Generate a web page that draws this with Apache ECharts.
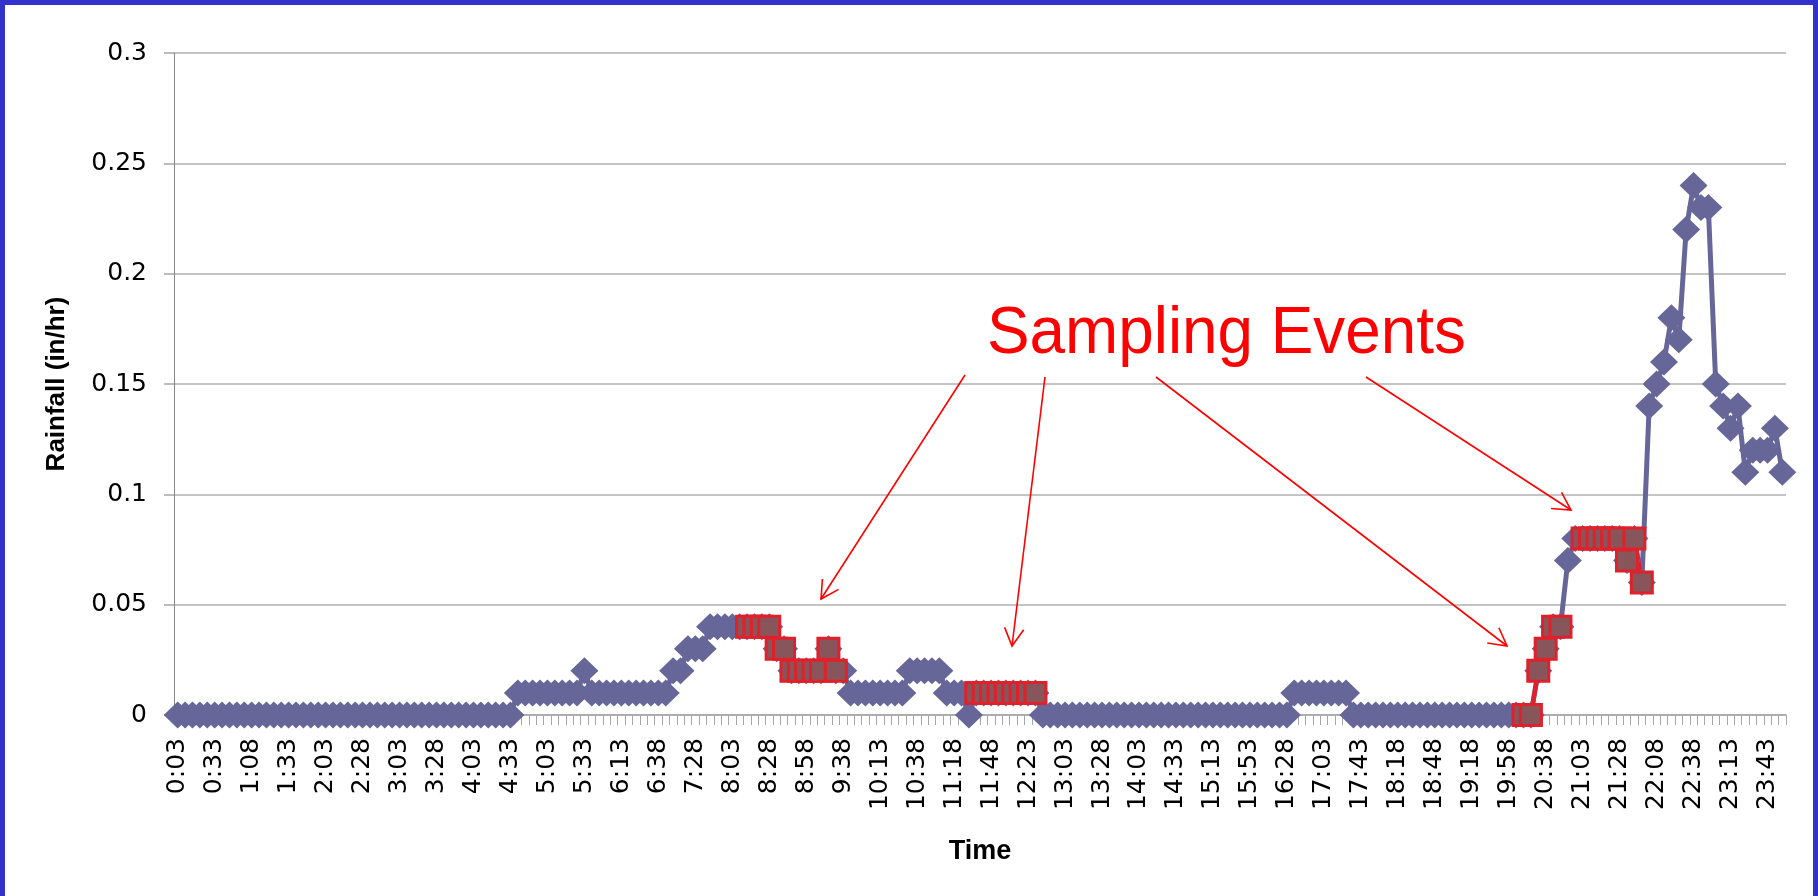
<!DOCTYPE html>
<html>
<head>
<meta charset="utf-8">
<title>Rainfall</title>
<script src="https://cdn.jsdelivr.net/npm/echarts@6/dist/echarts.min.js"></script>
<style>
  html, body { margin: 0; padding: 0; background: #fff; }
  #chart { position: absolute; left: 0; top: 0; width: 1818px; height: 896px; }
  #frame { position: absolute; left: 0; top: 0; width: 1818px; height: 896px; box-sizing: border-box;
           border: 5px solid #3333cc; border-bottom: none; pointer-events: none; }
</style>
</head>
<body>
<div id="chart"></div>
<div id="frame"></div>
<script>
// time stamps (only every 5th is printed on the axis)
const times = [
  '0:03','0:08','0:13','0:18','0:23', '0:33','0:38','0:43','0:48','0:53',
  '1:08','1:13','1:18','1:23','1:28', '1:33','1:38','1:43','1:48','1:53',
  '2:03','2:08','2:13','2:18','2:23', '2:28','2:33','2:38','2:43','2:48',
  '3:03','3:08','3:13','3:18','3:23', '3:28','3:33','3:38','3:43','3:48',
  '4:03','4:08','4:13','4:18','4:23', '4:33','4:38','4:43','4:48','4:53',
  '5:03','5:08','5:13','5:18','5:23', '5:33','5:38','5:43','5:48','5:53',
  '6:13','6:18','6:23','6:28','6:33', '6:38','6:43','6:48','6:53','6:58',
  '7:28','7:33','7:38','7:43','7:48', '8:03','8:08','8:13','8:18','8:23',
  '8:28','8:33','8:38','8:43','8:48', '8:58','9:03','9:08','9:13','9:18',
  '9:38','9:43','9:48','9:53','9:58', '10:13','10:18','10:23','10:28','10:33',
  '10:38','10:43','10:48','10:53','10:58', '11:18','11:23','11:28','11:33','11:38',
  '11:48','11:53','11:58','12:03','12:08', '12:23','12:28','12:33','12:38','12:43',
  '13:03','13:08','13:13','13:18','13:23', '13:28','13:33','13:38','13:43','13:48',
  '14:03','14:08','14:13','14:18','14:23', '14:33','14:38','14:43','14:48','14:53',
  '15:13','15:18','15:23','15:28','15:33', '15:53','15:58','16:03','16:08','16:13',
  '16:28','16:33','16:38','16:43','16:48', '17:03','17:08','17:13','17:18','17:23',
  '17:43','17:48','17:53','17:58','18:03', '18:18','18:23','18:28','18:33','18:38',
  '18:48','18:53','18:58','19:03','19:08', '19:18','19:23','19:28','19:33','19:38',
  '19:58','20:03','20:08','20:13','20:18', '20:38','20:43','20:48','20:53','20:58',
  '21:03','21:08','21:13','21:18','21:23', '21:28','21:33','21:38','21:43','21:48',
  '22:08','22:13','22:18','22:23','22:28', '22:38','22:43','22:48','22:53','22:58',
  '23:13','23:18','23:23','23:28','23:33', '23:43','23:48','23:53'
];

// rainfall (in/hr), one value per time stamp
const rainfall = [
  0,0,0,0,0,0,0,0,0,0,
  0,0,0,0,0,0,0,0,0,0,
  0,0,0,0,0,0,0,0,0,0,
  0,0,0,0,0,0,0,0,0,0,
  0,0,0,0,0,0,0.01,0.01,0.01,0.01,
  0.01,0.01,0.01,0.01,0.01,0.02,0.01,0.01,0.01,0.01,
  0.01,0.01,0.01,0.01,0.01,0.01,0.01,0.02,0.02,0.03,
  0.03,0.03,0.04,0.04,0.04,0.04,0.04,0.04,0.04,0.04,
  0.04,0.03,0.03,0.02,0.02,0.02,0.02,0.02,0.03,0.02,
  0.02,0.01,0.01,0.01,0.01,0.01,0.01,0.01,0.01,0.02,
  0.02,0.02,0.02,0.02,0.01,0.01,0.01,0,0.01,0.01,
  0.01,0.01,0.01,0.01,0.01,0.01,0.01,0,0,0,
  0,0,0,0,0,0,0,0,0,0,
  0,0,0,0,0,0,0,0,0,0,
  0,0,0,0,0,0,0,0,0,0,
  0,0.01,0.01,0.01,0.01,0.01,0.01,0.01,0.01,0,
  0,0,0,0,0,0,0,0,0,0,
  0,0,0,0,0,0,0,0,0,0,
  0,0,0,0,0.02,0.03,0.04,0.04,0.07,0.08,
  0.08,0.08,0.08,0.08,0.08,0.08,0.07,0.08,0.06,0.14,
  0.15,0.16,0.18,0.17,0.22,0.24,0.23,0.23,0.15,0.14,
  0.13,0.14,0.11,0.12,0.12,0.12,0.13,0.11
];

// sampling events: index ranges (first, last) into times
const samplingRanges = [[77, 89], [108, 116], [182, 187], [190, 198]];

const yMin = 0, yMax = 0.3, yStep = 0.05;

const sampled = rainfall.map(function (v, i) {
    return samplingRanges.some(function (r) { return i >= r[0] && i <= r[1]; }) ? v : null;
});

// annotation arrows (pixel positions on the page)
const arrows = [
    [965, 375, 821, 599],
    [1045, 377, 1012, 646],
    [1156, 377, 1507, 646],
    [1366, 377, 1571, 510]
];

function arrowShapes(a) {
    let x1 = a[0], y1 = a[1], x2 = a[2], y2 = a[3];
    let ang = Math.atan2(y2 - y1, x2 - x1);
    let len = 20, spread = 0.5;
    let p1 = [x2 - len * Math.cos(ang - spread), y2 - len * Math.sin(ang - spread)];
    let p2 = [x2 - len * Math.cos(ang + spread), y2 - len * Math.sin(ang + spread)];
    return [
        { type: 'line', shape: { x1: x1, y1: y1, x2: x2, y2: y2 },
          style: { stroke: '#ff0000', lineWidth: 1.6 }, z: 100 },
        { type: 'polyline', shape: { points: [p1, [x2, y2], p2] },
          style: { stroke: '#ff0000', lineWidth: 1.6, fill: null }, z: 100 }
    ];
}

let graphics = [];
arrows.forEach(function (a) { graphics = graphics.concat(arrowShapes(a)); });
graphics.push({
    type: 'text', x: 987, y: 335, z: 100, scaleX: 0.967,
    style: { text: 'Sampling Events', fill: '#ff0000', font: '66px "Liberation Sans", Arial, sans-serif',
             align: 'left', verticalAlign: 'middle' }
});

window.addEventListener('load', function () {
    let chart = echarts.init(document.getElementById('chart'));
    let option = {
        animation: false,
        backgroundColor: '#ffffff',
        grid: { left: 174, right: 32, top: 53, bottom: 181 },
        xAxis: {
            type: 'category',
            data: times,
            boundaryGap: true,
            name: 'Time',
            nameLocation: 'middle',
            nameGap: 123,
            nameTextStyle: { fontFamily: 'Liberation Sans', fontWeight: 'bold', fontSize: 27, color: '#000' },
            axisLine: { show: true, lineStyle: { color: '#a6a6a6', width: 1.5 } },
            axisTick: { show: true, interval: 0, length: 10, lineStyle: { color: '#a6a6a6', width: 1 } },
            axisLabel: { interval: 4, rotate: 90, margin: 23, fontFamily: 'DejaVu Sans', fontSize: 25, color: '#000' },
            splitLine: { show: false }
        },
        yAxis: {
            type: 'value',
            min: yMin,
            max: yMax,
            interval: yStep,
            name: 'Rainfall (in/hr)',
            nameLocation: 'middle',
            nameRotate: 90,
            nameGap: 104,
            nameTextStyle: { fontFamily: 'Liberation Sans', fontWeight: 'bold', fontSize: 26, color: '#000' },
            axisLine: { show: true, lineStyle: { color: '#868686', width: 1 } },
            axisTick: { show: true, length: 10, lineStyle: { color: '#a6a6a6', width: 1.5 } },
            axisLabel: { margin: 27, fontFamily: 'DejaVu Sans', fontSize: 25, color: '#000' },
            splitLine: { show: true, lineStyle: { color: '#b0b0b0', width: 1.5 } }
        },
        series: [
            {
                name: 'Rainfall',
                type: 'line',
                data: rainfall,
                symbol: 'diamond',
                symbolSize: [28, 27],
                showAllSymbol: true,
                clip: false,
                lineStyle: { color: '#666699', width: 5 },
                itemStyle: { color: '#666699', borderWidth: 0 }
            },
            {
                name: 'Sampling Events',
                type: 'line',
                data: sampled,
                connectNulls: false,
                symbol: 'rect',
                symbolSize: 21,
                showAllSymbol: true,
                clip: false,
                lineStyle: { color: '#e0202a', width: 4.5 },
                itemStyle: { color: '#88555a', borderColor: '#e0202a', borderWidth: 3 }
            }
        ],
        graphic: graphics
    };
    chart.setOption(option);
}, false);
</script>
</body>
</html>
